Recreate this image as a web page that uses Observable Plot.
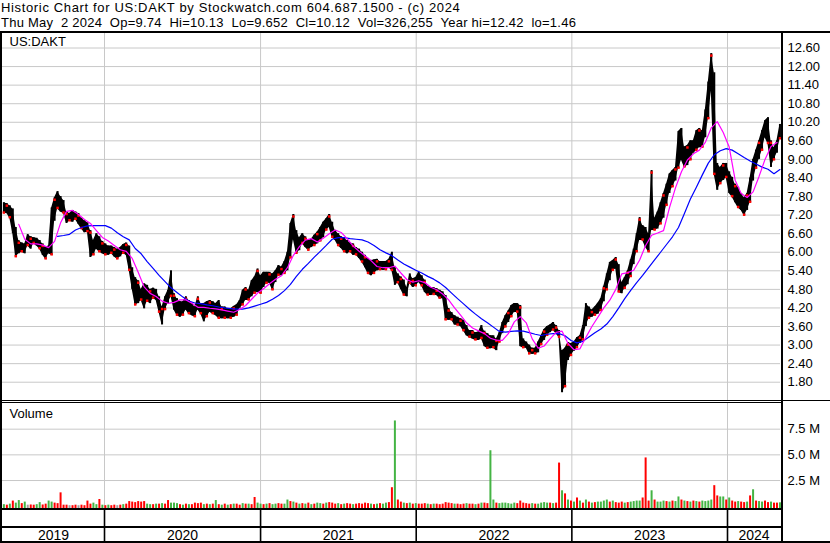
<!DOCTYPE html>
<html><head><meta charset="utf-8">
<script src="https://cdn.jsdelivr.net/npm/d3@7"></script>
<script src="https://cdn.jsdelivr.net/npm/@observablehq/plot@0.6"></script>
<style>
body{margin:0;background:#fff;}
#c{position:relative;width:830px;height:543px;overflow:hidden;background:#fff;font-family:"Liberation Sans",Arial,sans-serif;}
.hd{position:absolute;left:1px;font-size:13px;white-space:pre;color:#000;line-height:15px;}
.ln{position:absolute;background:#000;}
.pl{position:absolute;left:0;}
.pl svg{display:block;}
</style></head><body><div id="c"></div>
<script>
// ---------------- data ----------------
const ticker = "US:DAKT";
const headerLine1 = "Historic Chart for US:DAKT by Stockwatch.com 604.687.1500 - (c) 2024";
const headerLine2 = "Thu May  2 2024  Op=9.74  Hi=10.13  Lo=9.652  Cl=10.12  Vol=326,255  Year hi=12.42  lo=1.46";
const firstWeek = "2019-05-10"; // weekly samples, one per week
const priceHigh = [
7.6,7.57,7.5,7.4,6.8,6.37,6.3,6.27,6.57,6.5,
6.47,6.45,6.38,6.27,6.15,6.2,7.43,7.76,7.96,7.8,
7.67,7.3,7.25,7.35,7.3,7.25,7.1,7.02,6.95,6.7,
6.38,6.6,6.5,6.35,6.27,6.2,6.2,6.15,6.1,6.15,
6.25,6.3,6.2,5.5,5.18,5.08,4.8,4.98,4.93,4.8,
4.84,4.8,4.56,4.23,4.56,4.77,5.4,4.66,4.5,4.4,
4.4,4.56,4.44,4.34,4.23,4.56,4.34,4.34,4.4,4.44,
4.4,4.34,4.44,4.23,4.23,4.17,4.17,4.25,4.3,4.44,
4.77,4.86,4.77,5.08,5.2,5.46,5.24,5.35,5.35,5.35,
5.3,5.4,5.57,5.52,5.7,6.0,6.93,7.22,6.7,6.47,
6.6,6.5,6.38,6.42,6.55,6.65,6.8,6.97,7.08,7.22,
6.97,6.7,6.6,6.5,6.45,6.38,6.3,6.27,6.15,6.1,
6.0,5.9,5.8,5.73,5.75,5.77,5.7,5.7,5.7,5.77,
6.0,5.5,5.3,5.2,5.1,4.86,5.3,5.14,5.18,5.35,
5.24,5.1,4.9,4.86,4.85,4.82,4.77,4.72,4.6,4.18,
4.05,3.95,3.9,3.85,3.8,3.63,3.47,3.47,3.4,3.42,
3.63,3.45,3.37,3.3,3.3,3.2,3.4,3.73,3.95,4.1,
4.28,4.34,4.34,4.28,3.2,3.1,3.0,2.9,2.9,3.1,
3.3,3.5,3.6,3.65,3.73,3.63,3.47,2.82,2.9,3.08,
3.05,3.1,3.24,3.3,3.63,4.34,4.23,4.13,4.23,4.35,
4.5,4.9,5.3,5.67,5.73,5.83,5.6,5.02,5.18,5.4,
5.75,6.1,6.6,7.12,6.86,6.8,6.6,8.64,7.1,7.3,
7.6,7.9,8.2,8.53,8.64,8.74,9.9,10.0,9.4,9.45,
9.6,9.6,9.93,10.0,9.93,10.6,11.5,12.42,11.8,8.87,
8.74,8.87,8.87,8.6,8.42,8.2,8.1,7.9,7.76,7.9,
8.4,9.0,9.3,9.6,9.93,10.25,10.35,9.6,9.38,9.6,
10.13];
const priceLow = [
7.25,7.25,7.1,6.6,5.84,5.95,6.0,5.95,6.2,6.1,
6.27,6.2,6.1,5.9,5.77,5.95,5.9,7.0,7.4,7.3,
7.25,6.93,7.0,6.97,7.05,6.9,6.75,6.63,6.65,5.83,
5.9,6.1,6.0,5.95,5.9,5.9,5.95,5.85,5.77,5.85,
5.95,5.9,5.4,4.8,4.28,4.34,4.44,4.17,4.4,4.34,
4.5,4.45,4.05,3.65,4.13,4.34,4.56,4.13,3.95,3.9,
3.95,4.13,4.0,3.95,3.9,4.13,4.0,3.75,3.9,4.06,
4.0,3.95,3.85,3.85,3.85,3.85,3.85,3.9,3.95,4.19,
4.28,4.44,4.44,4.56,4.66,4.7,4.66,4.86,4.98,5.0,
4.77,5.02,5.24,5.24,5.3,5.4,5.8,6.4,5.95,6.05,
6.27,6.15,6.05,6.15,6.2,6.27,6.35,6.47,6.7,6.8,
6.47,6.38,6.2,6.12,6.0,5.95,6.0,5.9,5.9,5.8,
5.67,5.5,5.3,5.24,5.3,5.4,5.42,5.42,5.42,5.5,
5.4,4.93,5.0,4.8,4.6,4.56,4.98,4.86,4.9,5.02,
4.9,4.7,4.6,4.6,4.62,4.6,4.5,4.5,3.8,3.8,
3.8,3.65,3.63,3.6,3.45,3.3,3.24,3.2,3.15,3.15,
3.2,2.95,2.88,2.88,2.9,2.82,3.08,3.37,3.57,3.73,
3.9,4.05,4.05,2.95,2.9,2.9,2.7,2.7,2.7,2.75,
3.0,3.15,3.3,3.4,3.47,3.37,3.24,1.46,1.64,2.5,
2.65,2.8,2.9,3.05,3.15,3.6,3.85,3.9,3.95,4.0,
4.1,4.4,4.77,5.08,5.4,5.46,4.7,4.66,4.82,4.95,
5.2,5.6,6.0,6.38,6.38,6.15,6.0,6.7,6.7,6.75,
6.9,7.1,7.5,7.9,8.1,8.3,8.7,8.97,8.74,8.8,
8.97,9.2,9.28,9.38,9.38,9.7,10.3,11.2,8.5,8.0,
8.2,8.32,8.4,7.9,7.78,7.6,7.43,7.35,7.18,7.35,
7.6,8.3,8.7,9.0,9.28,9.7,9.5,8.74,8.97,9.2,
9.65];
// magenta moving average: every 2nd week starting at week 5
const maFastStartWeek = 5;
const maFast = [
6.9,6.42,6.27,6.27,6.23,6.15,6.35,6.95,7.32,7.35,
7.22,7.06,6.93,6.7,6.48,6.36,6.22,6.08,6.03,5.8,
5.35,4.88,4.67,4.57,4.42,4.35,4.38,4.46,4.46,4.35,
4.22,4.22,4.19,4.17,4.14,4.1,4.06,4.15,4.28,4.48,
4.68,4.82,4.98,5.13,5.24,5.5,5.9,6.18,6.39,6.44,
6.33,6.45,6.6,6.72,6.64,6.44,6.2,6.03,5.88,5.73,
5.54,5.5,5.5,5.55,5.33,5.12,5.03,5.08,5.02,4.87,
4.79,4.65,4.46,4.2,3.97,3.72,3.55,3.46,3.37,3.22,
3.16,3.15,3.37,3.75,3.92,3.72,3.2,2.9,2.97,3.2,
3.41,3.45,3.05,2.85,2.88,3.25,3.6,3.9,4.2,4.45,
4.8,5.3,5.34,5.42,5.75,6.22,6.55,6.62,6.7,7.44,
8.08,8.6,8.98,9.18,9.3,9.55,10.02,10.22,9.87,9.4,
8.33,7.9,7.77,7.95,8.45,9.0,9.42,9.55];
// blue moving average: every 2nd week starting at week 18
const maSlowStartWeek = 18;
const maSlow = [
6.51,6.54,6.58,6.72,6.8,6.85,6.86,6.86,6.86,6.78,
6.63,6.5,6.4,6.12,5.95,5.7,5.48,5.25,5.05,4.85,
4.7,4.55,4.42,4.36,4.34,4.3,4.27,4.23,4.2,4.18,
4.16,4.16,4.2,4.26,4.32,4.38,4.48,4.6,4.76,4.96,
5.22,5.45,5.64,5.84,6.03,6.22,6.42,6.47,6.47,6.44,
6.42,6.4,6.33,6.22,6.08,5.98,5.89,5.75,5.62,5.52,
5.42,5.33,5.22,5.13,5.01,4.86,4.68,4.5,4.33,4.16,
4.0,3.85,3.72,3.58,3.44,3.42,3.44,3.46,3.45,3.4,
3.35,3.31,3.35,3.37,3.37,3.3,3.15,3.07,3.12,3.26,
3.4,3.52,3.68,3.92,4.2,4.5,4.77,5.02,5.25,5.5,
5.75,6.0,6.25,6.5,6.8,7.25,7.72,8.1,8.5,8.88,
9.15,9.28,9.35,9.3,9.18,9.06,8.95,8.85,8.75,8.68,
8.54,8.67];
// weekly volume, millions of shares
const volume = [
0.15,0.1,0.2,0.5,0.3,0.55,0.25,0.4,0.1,0.12,
0.1,0.15,0.35,0.12,0.2,0.5,0.4,0.3,0.25,1.3,
0.1,0.1,0.05,0.05,0.1,0.05,0.1,0.05,0.5,0.2,
0.3,0.15,0.65,0.1,0.05,0.1,0.05,0.1,0.05,0.1,
0.15,0.2,0.45,0.4,0.35,0.45,0.4,0.45,0.2,0.15,
0.15,0.2,0.2,0.25,0.2,0.55,0.3,0.3,0.25,0.15,
0.1,0.2,0.15,0.15,0.3,0.25,0.3,0.15,0.2,0.15,
0.2,0.55,0.15,0.1,0.2,0.1,0.15,0.2,0.2,0.1,
0.25,0.2,0.2,0.15,0.85,0.3,0.2,0.15,0.2,0.25,
0.15,0.2,0.25,0.2,0.2,0.6,0.45,0.4,0.3,0.2,
0.25,0.2,0.3,0.15,0.2,0.3,0.25,0.2,0.3,0.35,
0.3,0.2,0.25,0.15,0.2,0.25,0.2,0.15,0.2,0.25,
0.2,0.3,0.25,0.2,0.15,0.2,0.25,0.2,0.3,0.35,
1.8,8.3,0.6,0.4,0.3,0.25,0.3,0.2,0.25,0.2,
0.2,0.25,0.2,0.15,0.2,0.2,0.15,0.2,0.35,0.3,
0.25,0.2,0.2,0.15,0.2,0.25,0.2,0.2,0.15,0.2,
0.3,0.3,0.25,5.4,0.6,0.3,0.25,0.3,0.3,0.25,
0.2,0.3,0.25,0.5,0.3,0.25,0.2,0.25,0.2,0.2,
0.3,0.35,0.3,0.3,0.25,0.3,4.2,1.5,1.2,0.6,
0.5,0.4,0.8,0.5,0.3,0.6,0.4,0.3,0.35,0.4,
0.4,0.5,0.6,0.4,0.5,0.35,0.3,0.4,0.3,0.35,
0.4,0.45,0.5,0.5,0.8,4.7,0.5,1.5,0.6,0.4,
0.4,0.5,0.45,0.4,0.5,0.45,0.9,0.6,0.5,0.45,
0.4,0.5,0.45,0.4,0.5,0.45,0.5,0.6,2.0,1.0,
0.9,0.9,0.6,0.8,0.5,0.4,0.45,0.4,0.35,0.4,
1.0,1.6,0.5,0.45,0.4,0.5,0.35,0.4,0.3,0.3,
0.33];
// g = up (green), r = down (red), n = unchanged (grey)
const volumeDirection =
"grgrggrgnr"+"rggrrggrrr"+"rrnrrnrrrr"+"ggrgrgrrnr"+"grrrrrrrgg"+
"rgrgrrgggr"+"grgrrrrgrg"+"rgrgrgrgrr"+"grgrrggrgr"+"ggrrggrgrg"+
"rgrgrggrgr"+"rrgrgrrgrr"+"rrrgrgrggr"+"rgrrgrgrgr"+"rrgrgrrrrr"+
"rgrrrgrrgr"+"grrggrgggg"+"ggrrrrrgrg"+"gggrgrrgrg"+"rgrgrgrgrg"+
"gggrgrrrgr"+"ggggrrrgrg"+"ggrgrggrgr"+"grgrggggrr"+"ggrgrrgrrg"+
"rgrggrrgrr"+"g";
const priceTicks = [1.8,2.4,3.0,3.6,4.2,4.8,5.4,6.0,6.6,7.2,7.8,8.4,9.0,9.6,10.2,10.8,11.4,12.0,12.6];
const volumeTicks = [2.5,5.0,7.5];
const years = [2019,2020,2021,2022,2023,2024];

// ---------------- build ----------------
const FONT = '"Liberation Sans", Arial, sans-serif';
const X_DOMAIN = [new Date("2019-05-06T19:00:00Z"), new Date("2024-05-04T07:00:00Z")];
const start = new Date(firstWeek + "T00:00:00Z");
const weekDate = i => d3.utcDay.offset(start, 7 * i);
const weeks = priceHigh.map((h, i) => ({date: weekDate(i), hi: h, lo: priceLow[i], i}));
const redLow = weeks.filter(d => d.i % 2 === 0);
const redHigh = weeks.filter(d => d.i % 4 === 1);
const fast = maFast.map((v, k) => ({date: weekDate(maFastStartWeek + 2 * k), v}));
const slow = maSlow.map((v, k) => ({date: weekDate(maSlowStartWeek + 2 * k), v}));
const vols = volume.map((v, i) => ({date: weekDate(i), v, dir: volumeDirection[i]}));
const yearStarts = years.slice(1).map(y => new Date(Date.UTC(y, 0, 1)));
const yearLabels = years.map(y => {
  const a = Math.max(+new Date(Date.UTC(y, 0, 1)), +X_DOMAIN[0]);
  const b = Math.min(+new Date(Date.UTC(y + 1, 0, 1)), +X_DOMAIN[1]);
  return {year: String(y), mid: new Date((a + b) / 2)};
});

const baseStyle = {fontFamily: FONT, fontSize: "13px", background: "transparent", color: "#000", overflow: "visible"};
const xOpt = {type: "utc", domain: X_DOMAIN, axis: null};

const pricePlot = Plot.plot({
  width: 830, height: 368, marginLeft: 2, marginRight: 50, marginTop: 0, marginBottom: 0,
  style: baseStyle,
  x: xOpt,
  y: {domain: [1.209, 13.101]},
  marks: [
    Plot.ruleY(priceTicks, {stroke: "#c8c8c8", strokeWidth: 1}),
    Plot.ruleX(yearStarts, {stroke: "#c8c8c8", strokeWidth: 1}),
    Plot.areaY(weeks, {x: "date", y1: "lo", y2: "hi", fill: "#000", curve: "linear"}),
    Plot.ruleX(weeks, {x: "date", y1: "lo", y2: "hi", stroke: "#000", strokeWidth: 2}),
    Plot.dot(redLow, {x: "date", y: "lo", dy: -1, r: 1.4, fill: "#ff0000", stroke: null, symbol: "square"}),
    Plot.dot(redHigh, {x: "date", y: "hi", dy: 2, r: 1.4, fill: "#ff0000", stroke: null, symbol: "square"}),
    Plot.line(slow, {x: "date", y: "v", stroke: "#0000ff", strokeWidth: 1.2}),
    Plot.line(fast, {x: "date", y: "v", stroke: "#ff00ff", strokeWidth: 1.2}),
    Plot.axisY(priceTicks, {anchor: "right", tickSize: 0, tickPadding: 7, tickFormat: d3.format(".2f"), fontSize: 13, label: null}),
    Plot.text([ticker], {frameAnchor: "top-left", dx: 7, dy: 4, lineAnchor: "top", textAnchor: "start", fontSize: 13})
  ]
});

const colorOf = {g: "#44b444", r: "#ff0000", n: "#a0a0a0"};
const volPlot = Plot.plot({
  width: 830, height: 105, marginLeft: 2, marginRight: 50, marginTop: 0, marginBottom: 0,
  style: baseStyle,
  x: xOpt,
  y: {domain: [-0.224, 10.0]},
  marks: [
    Plot.ruleY(volumeTicks, {stroke: "#c8c8c8"}),
    Plot.ruleX(yearStarts, {stroke: "#c8c8c8"}),
    ...["n", "g", "r"].map(k => Plot.ruleX(vols.filter(d => d.dir === k), {x: "date", y1: -0.224, y2: "v", stroke: colorOf[k], strokeWidth: 2})),
    Plot.axisY(volumeTicks, {anchor: "right", tickSize: 0, tickPadding: 7, tickFormat: d => d.toFixed(1) + " M", fontSize: 13, label: null}),
    Plot.text(["Volume"], {frameAnchor: "top-left", dx: 7, dy: 5, lineAnchor: "top", textAnchor: "start", fontSize: 13})
  ]
});

const yearPlot = Plot.plot({
  width: 830, height: 31, marginLeft: 2, marginRight: 50, marginTop: 0, marginBottom: 0,
  style: baseStyle,
  x: xOpt,
  marks: [
    Plot.ruleX(yearStarts, {stroke: "#000", strokeWidth: 1.6}),
    Plot.text(yearLabels, {x: "mid", text: "year", frameAnchor: "bottom", lineAnchor: "bottom", dy: -2, fontSize: 14})
  ]
});

const c = document.getElementById("c");
function div(cls, css, html) { const d = document.createElement("div"); d.className = cls; d.style.cssText = css; if (html != null) d.textContent = html; c.appendChild(d); return d; }
div("hd", "top:0px;letter-spacing:0.65px;", headerLine1);
div("hd", "top:15px;letter-spacing:0.24px;", headerLine2);
div("pl", "top:32px;").appendChild(pricePlot);
div("pl", "top:403px;").appendChild(volPlot);
div("pl", "top:510px;").appendChild(yearPlot);
// frame lines
div("ln", "left:0;top:31px;width:830px;height:2px;");
div("ln", "left:0;top:31px;width:2px;height:512px;");
div("ln", "left:781px;top:31px;width:2px;height:512px;");
div("ln", "left:0;top:400px;width:830px;height:1px;");
div("ln", "left:0;top:402px;width:782px;height:1px;");
div("ln", "left:0;top:508px;width:782px;height:2px;");
div("ln", "left:0;top:526px;width:782px;height:2px;");
div("ln", "left:0;top:541px;width:830px;height:2px;");
</script></body></html>
